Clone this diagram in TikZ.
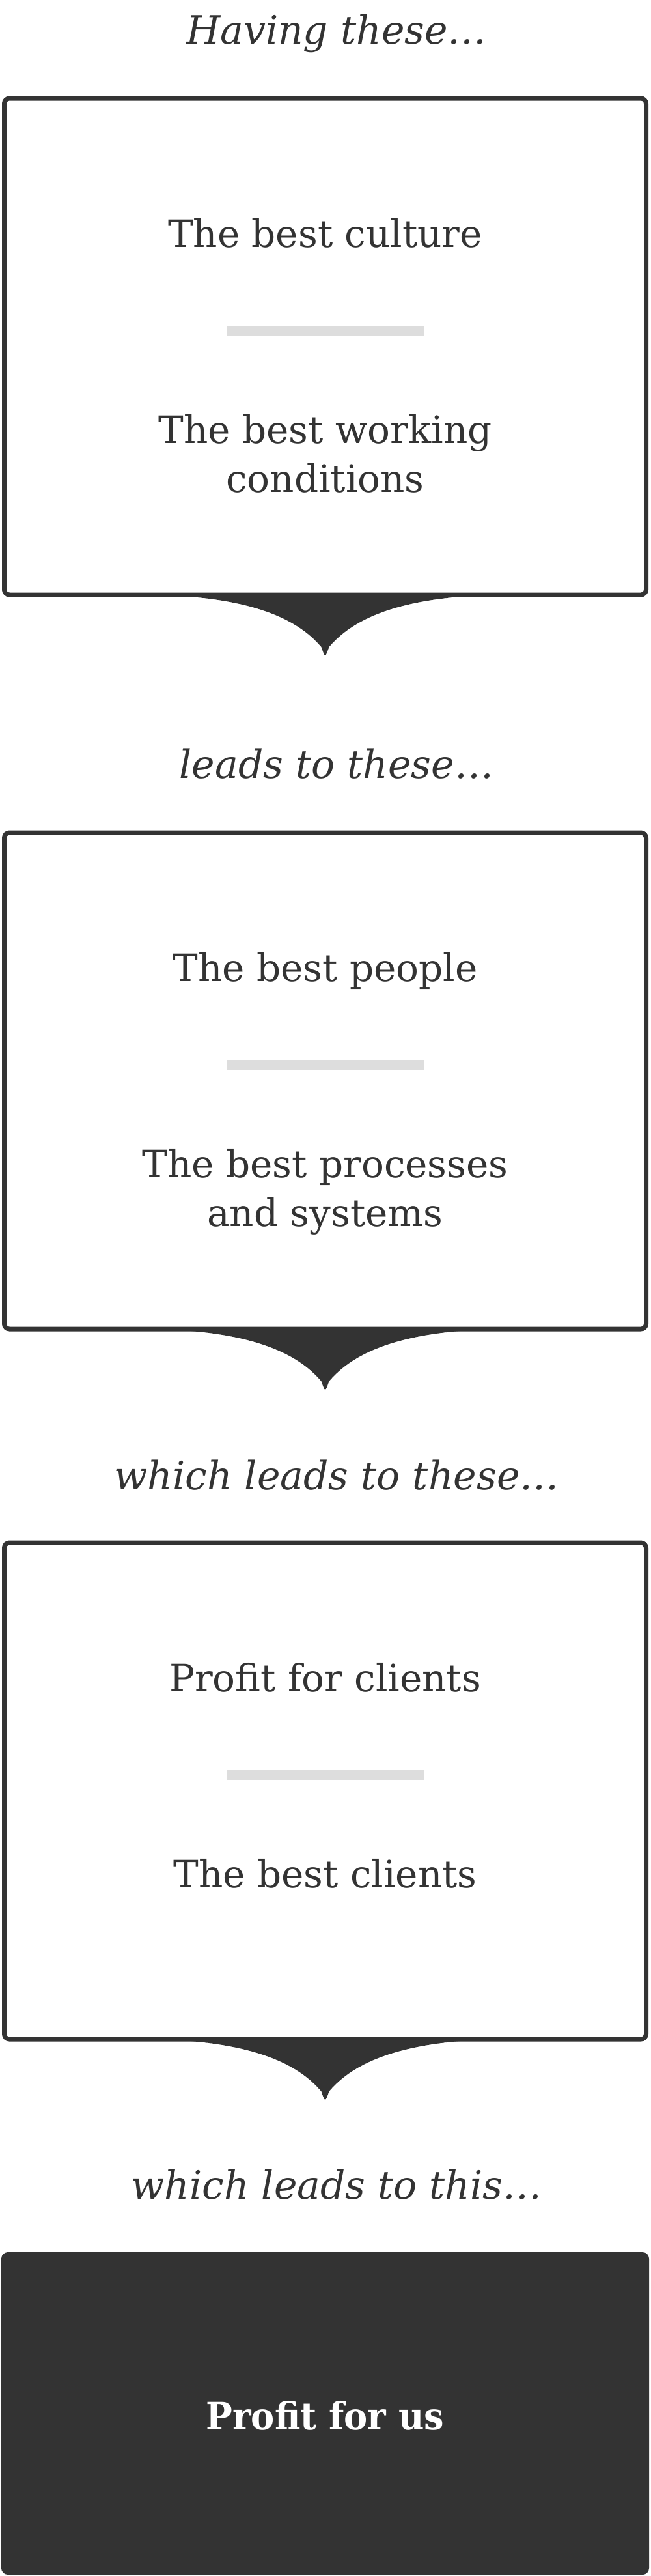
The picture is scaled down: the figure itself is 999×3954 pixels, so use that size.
\documentclass[tikz,border=0pt]{standalone}
\usepackage{fontspec}
\setmainfont{DejaVu Serif}
\usetikzlibrary{calc}
\definecolor{ink}{HTML}{333333}
\definecolor{rulegray}{HTML}{DDDDDD}
\tikzset{
  stepbox/.style={draw=ink, line width=7pt, rounded corners=8pt, fill=white,
    minimum width=986pt, minimum height=762pt, inner sep=0pt, outer sep=0pt, anchor=north west},
  darkbox/.style={fill=ink, rounded corners=10pt, minimum width=995pt, minimum height=495pt,
    inner sep=0pt, outer sep=0pt, anchor=north west},
  body/.style={text=ink, font=\fontsize{58}{75}\selectfont, anchor=base, inner sep=0pt},
  lab/.style={text=ink, font=\fontsize{60}{72}\selectfont\itshape, anchor=base, inner sep=0pt},
  sepline/.style={draw=rulegray, line width=15pt},
  tipfill/.style={fill=ink},
}
\newcommand{\twoline}[2]{\begin{tabular}[t]{@{}c@{}}#1\\#2\end{tabular}}
\begin{document}
\begin{tikzpicture}[x=1pt,y=-1pt]
\useasboundingbox (0,0) rectangle (999,3954);

% labels
\node[lab] (l1) at (517,67) {Having these…};
\node[lab] (l2) at (517,1194) {leads to these…};
\node[lab] (l3) at (517,2286) {which leads to these…};
\node[lab] (l4) at (517,3375) {which leads to this…};

% boxes
\node[stepbox] (b1) at (6.5,151) {};
\node[stepbox] (b2) at (6.5,1278) {};
\node[stepbox] (b3) at (6.5,2368) {};
\node[darkbox] (b4) at (2,3457) {};

% pointers
\foreach \b in {b1,b2,b3}{
  \fill[tipfill, shift={(\b.south)}] (-264,0) .. controls (-120,3) and (-45,34) .. (-6,80)
     .. controls (0,97) .. (6,80) .. controls (45,34) and (120,3) .. (264,0) -- cycle;
}

% box 1
\node[body] (t11) at ($(b1.north)+(0,228.5)$) {The best culture};
\draw[sepline] ($(b1.north)+(-151,356.5)$) -- ($(b1.north)+(151,356.5)$);
\node[body] (t12) at ($(b1.north)+(0,529)$) {\twoline{The best working}{conditions}};

% box 2
\node[body] (t21) at ($(b2.north)+(0,228.5)$) {The best people};
\draw[sepline] ($(b2.north)+(-151,356.5)$) -- ($(b2.north)+(151,356.5)$);
\node[body] (t22) at ($(b2.north)+(0,529)$) {\twoline{The best processes}{and systems}};

% box 3
\node[body] (t31) at ($(b3.north)+(0,228.5)$) {Profit for clients};
\draw[sepline] ($(b3.north)+(-151,356.5)$) -- ($(b3.north)+(151,356.5)$);
\node[body] (t32) at ($(b3.north)+(0,529)$) {The best clients};

% final
\node[body, text=white, font=\fontsize{58}{72}\selectfont\bfseries] (t41) at ($(b4.north)+(0,272)$) {\scalebox{0.935}[1]{Profit for us}};
\end{tikzpicture}
\end{document}
